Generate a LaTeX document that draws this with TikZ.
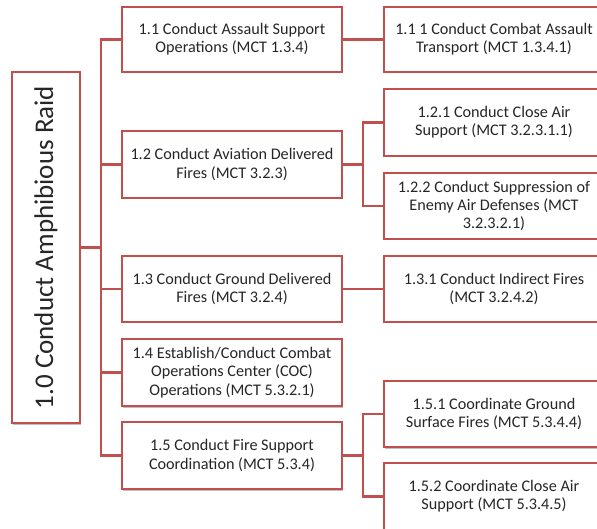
\documentclass[tikz,border=0pt]{standalone}
\usepackage{fontspec}
\setmainfont{Carlito}
\usetikzlibrary{calc,shadows}
\definecolor{boxred}{HTML}{C0504D}
\definecolor{txt}{HTML}{262626}
\tikzset{
  x=1pt, y=-1pt,
  task/.style={draw=boxred, line width=2.6pt, fill=white, align=center,
    text=txt, inner sep=2pt, minimum width=220pt,
    font=\fontsize{16.2}{18.3}\selectfont,
    drop shadow={shadow xshift=1pt, shadow yshift=-1.5pt, fill=black, opacity=0.25}},
  link/.style={draw=boxred, line width=2.6pt},
}
\begin{document}
\begin{tikzpicture}
\useasboundingbox (0,0) rectangle (597,529);
% root
\node[task, minimum width=68pt, minimum height=351pt] (root) at (46,247.5) {};
\node[rotate=90, text=txt, font=\fontsize{27}{32}\selectfont] (roottxt) at (root.center) {1.0 Conduct Amphibious Raid};
% first level
\node[task, minimum height=65pt] (n11) at (232,39.5) {1.1 Conduct Assault Support\\Operations (MCT 1.3.4)};
\node[task, minimum height=67pt] (n12) at (232,164.5) {1.2 Conduct Aviation Delivered\\Fires (MCT 3.2.3)};
\node[task, minimum height=66pt] (n13) at (232,289) {1.3 Conduct Ground Delivered\\Fires (MCT 3.2.4)};
\node[task, minimum height=67pt] (n14) at (232,372.5) {1.4 Establish/Conduct Combat\\Operations Center (COC)\\Operations (MCT 5.3.2.1)};
\node[task, minimum height=67pt] (n15) at (232,455.5) {1.5 Conduct Fire Support\\Coordination (MCT 5.3.4)};
% second level
\node[task, minimum height=65pt] (n111) at (494,39.5) {1.1 1 Conduct Combat Assault\\Transport (MCT 1.3.4.1)};
\node[task, minimum height=67pt] (n121) at (494,122.5) {1.2.1 Conduct Close Air\\Support (MCT 3.2.3.1.1)};
\node[task, minimum height=66pt] (n122) at (494,206) {1.2.2 Conduct Suppression of\\Enemy Air Defenses (MCT\\3.2.3.2.1)};
\node[task, minimum height=66pt] (n131) at (494,289) {1.3.1 Conduct Indirect Fires\\(MCT 3.2.4.2)};
\node[task, minimum height=66pt] (n151) at (494,414) {1.5.1 Coordinate Ground\\Surface Fires (MCT 5.3.4.4)};
\node[task, minimum height=67pt] (n152) at (494,496.5) {1.5.2 Coordinate Close Air\\Support (MCT 5.3.4.5)};
% trunk from the root
\coordinate (tr) at ($(root.east)!0.5!(n11.west |- root.east)$);
\draw[link] (root.east) -- (tr);
\foreach \n in {n11,n12,n13,n14,n15}
  \draw[link] (tr) |- (\n.west);
% second-level links
\draw[link] (n11.east) -- (n111.west);
\draw[link] (n13.east) -- (n131.west);
\coordinate (b12) at ($(n12.east)!0.5!(n121.west |- n12.east)$);
\draw[link] (n12.east) -- (b12);
\draw[link] (b12) |- (n121.west);
\draw[link] (b12) |- (n122.west);
\coordinate (b15) at ($(n15.east)!0.5!(n151.west |- n15.east)$);
\draw[link] (n15.east) -- (b15);
\draw[link] (b15) |- (n151.west);
\draw[link] (b15) |- (n152.west);
\end{tikzpicture}
\end{document}
